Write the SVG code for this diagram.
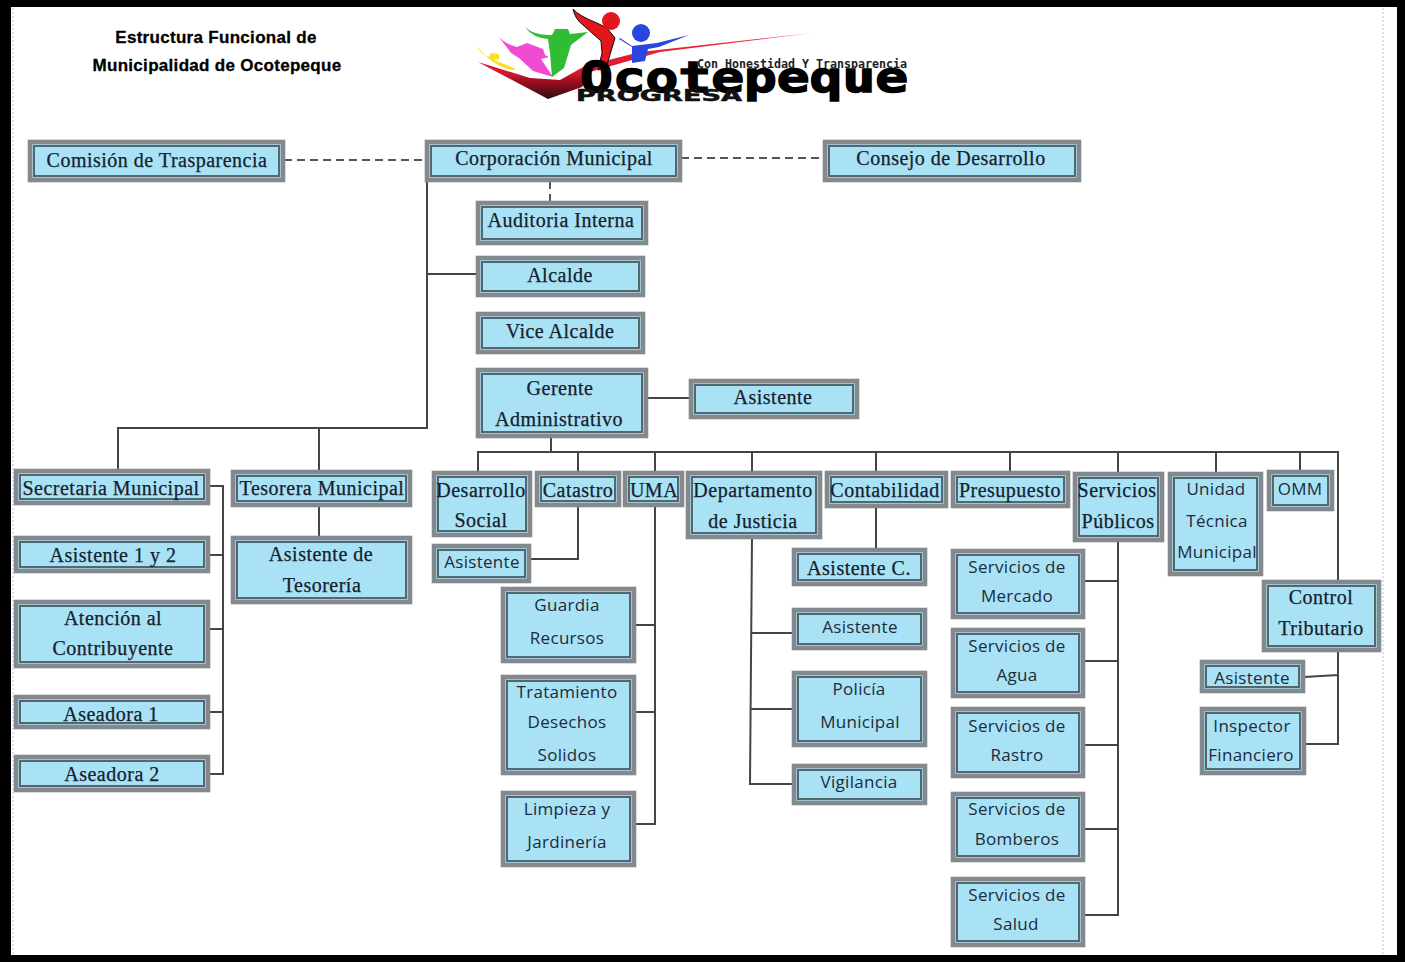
<svg xmlns="http://www.w3.org/2000/svg" width="1405" height="962" viewBox="0 0 1405 962">
<defs>
<filter id="soft" x="-5%" y="-5%" width="110%" height="110%"><feGaussianBlur stdDeviation="0.6"/></filter>
<linearGradient id="sw" x1="0" y1="0" x2="0" y2="1"><stop offset="0" stop-color="#f0303f"/><stop offset="0.6" stop-color="#d8142a"/><stop offset="1" stop-color="#2a0a0e"/></linearGradient>
</defs>
<style>
.o{fill:#a9e1f5;stroke:#83898c;stroke-width:4.6}
.i{fill:none;stroke:#54666f;stroke-width:2}
.s{font-family:"Liberation Serif","DejaVu Serif",serif;font-size:20px;letter-spacing:.5px;fill:#15202c;text-anchor:middle;stroke:#15202c;stroke-width:.25}
.c{font-family:"Open Sans","Noto Sans",sans-serif;font-size:17px;letter-spacing:.3px;fill:#1d2b3a;text-anchor:middle}
.l{fill:none;stroke:#444;stroke-width:2}
.d{fill:none;stroke:#555;stroke-width:2;stroke-dasharray:8 5}
.t{font-family:"Liberation Sans",Arial,sans-serif;font-size:17px;font-weight:700;letter-spacing:.3px;fill:#000;stroke:#000;stroke-width:.3;text-anchor:middle}
</style>
<rect width="1405" height="962" fill="#fff"/>
<g id="frame">
<path d="M13 8V955M1383 8V955" fill="none" stroke="#a8c8f0" stroke-width="1" stroke-dasharray="2 2"/>
<path d="M5.500 3.500H1401V958.500H5.500Z" fill="none" stroke="#000" stroke-width="7"/>
<rect x="0" y="0" width="11" height="962"/>
<rect x="1397" y="0" width="8" height="962"/>
</g>
<g id="title"><text class="t" x="216" y="43">Estructura  Funcional de</text><text class="t" x="217" y="71">Municipalidad de Ocotepeque</text></g>
<g id="logo">
<g filter="url(#soft)">
<path d="M478 62L548 99 582 87 590 72 660 52 812 33 640 52 585 66 560 80 530 78Z" fill="url(#sw)"/>
<path d="M477 46q3 8 12 11l2-4 8 1 0 5-5 1 22 9-4 1q-20-4-35-24Z" fill="#f8e020"/>
<path d="M499 37q8 8 18 10l10-4 16 6 2 6 4 2-8 2 12 18-20-6-14-13-8-5-6-8Z" fill="#f04bd2"/>
<path d="M525 27q10 9 27 8l3-6 13 0 2 5 18-2-17 13-7 23-12 9-2-24-2-14q-15-1-23-12Z" fill="#2fbd35"/>
<path d="M573 9q2 10 10 16l18 16 1 12-4 17 8-2 9-30-8-10-10-5q-18-7-24-14Z" fill="#e3121b" stroke="#111" stroke-width="1"/>
<circle cx="611" cy="21" r="9" fill="#e3121b"/>
<circle cx="641" cy="33" r="9" fill="#2c45e0"/>
<path d="M620 38l12 8 25-3 32-8-30 12-11 2-3 12-13 2 0-16-13-8Z" fill="#2c45e0"/>
</g>
<text x="580" y="92" font-family="'DejaVu Sans Mono',monospace" font-size="42" font-weight="700" textLength="328" lengthAdjust="spacingAndGlyphs" stroke="#000" stroke-width="1.500">Ocotepeque</text>
<text x="697" y="68" font-family="'DejaVu Sans Mono',monospace" font-size="12" font-weight="700" fill="#222" textLength="210" lengthAdjust="spacingAndGlyphs">Con Honestidad Y Transparencia</text>
<text x="576" y="101" font-family="'DejaVu Sans',sans-serif" font-size="15" font-weight="700" fill="#111" stroke="#111" stroke-width=".5" textLength="166" lengthAdjust="spacingAndGlyphs">PROGRESA</text>
</g>
<g id="connectors">
<path class="d" d="M284 160H426M681 158H824M550 181V202"/>
<path class="l" d="M427 181V428H118V470M319 428V471M427 274H477M319 506V537M646 398H690"/>
<path class="l" d="M551 437V452M478 472V452H1338V581M578 452V472M655 452V472M752 452V472M876 452V472M1010 452V472M1118 452V473M1216 452V473M1300 452V471"/>
<path class="l" d="M209 486H223V774H209M209 555H223M209 629H223M209 712H223"/>
<path class="l" d="M578 506V559H530"/>
<path class="l" d="M655 506V824H635M635 625H655M635 712H655"/>
<path class="l" d="M752 538L750 784H793M751 633H793M751 709H793"/>
<path class="l" d="M876 507V549"/>
<path class="l" d="M1118 541V915H1084M1084 581H1118M1084 661H1118M1084 745H1118M1084 829H1118"/>
<path class="l" d="M1338 651V744H1305M1304 677L1338 675"/>
</g>
<g id="n1"><rect class="o" x="30" y="142" width="253" height="38"/><rect class="i" x="34" y="146" width="245" height="30"/><text class="s" x="157" y="167">Comisión de Trasparencia</text></g>
<g id="n2"><rect class="o" x="427" y="142" width="253" height="38"/><rect class="i" x="431" y="146" width="245" height="30"/><text class="s" x="554" y="165">Corporación Municipal</text></g>
<g id="n3"><rect class="o" x="825" y="142" width="254" height="38"/><rect class="i" x="829" y="146" width="246" height="30"/><text class="s" x="951" y="165">Consejo de Desarrollo</text></g>
<g id="n4"><rect class="o" x="478" y="203" width="168" height="40"/><rect class="i" x="482" y="207" width="160" height="32"/><text class="s" x="561" y="227">Auditoria Interna</text></g>
<g id="n5"><rect class="o" x="478" y="258" width="165" height="37"/><rect class="i" x="482" y="262" width="157" height="29"/><text class="s" x="560" y="282">Alcalde</text></g>
<g id="n6"><rect class="o" x="478" y="314" width="165" height="38"/><rect class="i" x="482" y="318" width="157" height="30"/><text class="s" x="560" y="338">Vice Alcalde</text></g>
<g id="n7"><rect class="o" x="478" y="370" width="168" height="66"/><rect class="i" x="482" y="374" width="160" height="58"/><text class="s" x="560" y="395">Gerente</text><text class="s" x="559" y="426">Administrativo</text></g>
<g id="n8"><rect class="o" x="691" y="381" width="166" height="36"/><rect class="i" x="695" y="385" width="158" height="28"/><text class="s" x="773" y="404">Asistente</text></g>
<g id="n9"><rect class="o" x="16" y="471" width="192" height="32"/><rect class="i" x="20" y="475" width="184" height="24"/><text class="s" x="111" y="495">Secretaria Municipal</text></g>
<g id="n10"><rect class="o" x="233" y="472" width="177" height="33"/><rect class="i" x="237" y="476" width="169" height="25"/><text class="s" x="322" y="495">Tesorera Municipal</text></g>
<g id="n11"><rect class="o" x="434" y="473" width="96" height="62"/><rect class="i" x="438" y="477" width="88" height="54"/><text class="s" x="481" y="497">Desarrollo</text><text class="s" x="481" y="527">Social</text></g>
<g id="n12"><rect class="o" x="537" y="473" width="82" height="32"/><rect class="i" x="541" y="477" width="74" height="24"/><text class="s" x="578" y="497">Catastro</text></g>
<g id="n13"><rect class="o" x="625" y="473" width="57" height="32"/><rect class="i" x="629" y="477" width="49" height="24"/><text class="s" x="654" y="497">UMA</text></g>
<g id="n14"><rect class="o" x="688" y="473" width="132" height="64"/><rect class="i" x="692" y="477" width="124" height="56"/><text class="s" x="753" y="497">Departamento</text><text class="s" x="753" y="528">de Justicia</text></g>
<g id="n15"><rect class="o" x="827" y="473" width="119" height="33"/><rect class="i" x="831" y="477" width="111" height="25"/><text class="s" x="885" y="497">Contabilidad</text></g>
<g id="n16"><rect class="o" x="953" y="473" width="115" height="33"/><rect class="i" x="957" y="477" width="107" height="25"/><text class="s" x="1010" y="497">Presupuesto</text></g>
<g id="n17"><rect class="o" x="1075" y="474" width="87" height="66"/><rect class="i" x="1079" y="478" width="79" height="58"/><text class="s" x="1117" y="497">Servicios</text><text class="s" x="1118" y="528">Públicos</text></g>
<g id="n18"><rect class="o" x="1170" y="474" width="91" height="100"/><rect class="i" x="1174" y="478" width="83" height="92"/><text class="c" x="1216" y="495">Unidad</text><text class="c" x="1217" y="527">Técnica</text><text class="c" x="1217" y="558">Municipal</text></g>
<g id="n19"><rect class="o" x="1269" y="472" width="63" height="37"/><rect class="i" x="1273" y="476" width="55" height="29"/><text class="c" x="1300" y="495">OMM</text></g>
<g id="n20"><rect class="o" x="1264" y="582" width="115" height="68"/><rect class="i" x="1268" y="586" width="107" height="60"/><text class="s" x="1321" y="604">Control</text><text class="s" x="1321" y="635">Tributario</text></g>
<g id="n21"><rect class="o" x="1202" y="662" width="101" height="29"/><rect class="i" x="1206" y="666" width="93" height="21"/><text class="c" x="1252" y="684">Asistente</text></g>
<g id="n22"><rect class="o" x="1202" y="709" width="102" height="64"/><rect class="i" x="1206" y="713" width="94" height="56"/><text class="c" x="1252" y="732">Inspector</text><text class="c" x="1251" y="761">Financiero</text></g>
<g id="n23"><rect class="o" x="16" y="538" width="192" height="33"/><rect class="i" x="20" y="542" width="184" height="25"/><text class="s" x="113" y="562">Asistente 1 y 2</text></g>
<g id="n24"><rect class="o" x="16" y="602" width="192" height="64"/><rect class="i" x="20" y="606" width="184" height="56"/><text class="s" x="113" y="625">Atención al</text><text class="s" x="113" y="655">Contribuyente</text></g>
<g id="n25"><rect class="o" x="16" y="697" width="192" height="30"/><rect class="i" x="20" y="701" width="184" height="22"/><text class="s" x="111" y="721">Aseadora 1</text></g>
<g id="n26"><rect class="o" x="16" y="757" width="192" height="33"/><rect class="i" x="20" y="761" width="184" height="25"/><text class="s" x="112" y="781">Aseadora 2</text></g>
<g id="n27"><rect class="o" x="233" y="538" width="177" height="64"/><rect class="i" x="237" y="542" width="169" height="56"/><text class="s" x="321" y="561">Asistente de</text><text class="s" x="322" y="592">Tesorería</text></g>
<g id="n28"><rect class="o" x="434" y="546" width="95" height="35"/><rect class="i" x="438" y="550" width="87" height="27"/><text class="c" x="482" y="568">Asistente</text></g>
<g id="n29"><rect class="o" x="503" y="589" width="131" height="72"/><rect class="i" x="507" y="593" width="123" height="64"/><text class="c" x="567" y="611">Guardia</text><text class="c" x="567" y="644">Recursos</text></g>
<g id="n30"><rect class="o" x="503" y="677" width="131" height="96"/><rect class="i" x="507" y="681" width="123" height="88"/><text class="c" x="567" y="698">Tratamiento</text><text class="c" x="567" y="728">Desechos</text><text class="c" x="567" y="761">Solidos</text></g>
<g id="n31"><rect class="o" x="503" y="793" width="131" height="72"/><rect class="i" x="507" y="797" width="123" height="64"/><text class="c" x="567" y="815">Limpieza y</text><text class="c" x="567" y="848">Jardinería</text></g>
<g id="n32"><rect class="o" x="794" y="550" width="131" height="34"/><rect class="i" x="798" y="554" width="123" height="26"/><text class="s" x="859" y="575">Asistente C.</text></g>
<g id="n33"><rect class="o" x="794" y="610" width="131" height="38"/><rect class="i" x="798" y="614" width="123" height="30"/><text class="c" x="860" y="633">Asistente</text></g>
<g id="n34"><rect class="o" x="794" y="673" width="131" height="72"/><rect class="i" x="798" y="677" width="123" height="64"/><text class="c" x="859" y="695">Policía</text><text class="c" x="860" y="728">Municipal</text></g>
<g id="n35"><rect class="o" x="794" y="766" width="131" height="37"/><rect class="i" x="798" y="770" width="123" height="29"/><text class="c" x="859" y="788">Vigilancia</text></g>
<g id="n36"><rect class="o" x="953" y="551" width="130" height="66"/><rect class="i" x="957" y="555" width="122" height="58"/><text class="c" x="1017" y="573">Servicios de</text><text class="c" x="1017" y="602">Mercado</text></g>
<g id="n37"><rect class="o" x="953" y="630" width="130" height="66"/><rect class="i" x="957" y="634" width="122" height="58"/><text class="c" x="1017" y="652">Servicios de</text><text class="c" x="1017" y="681">Agua</text></g>
<g id="n38"><rect class="o" x="953" y="709" width="130" height="67"/><rect class="i" x="957" y="713" width="122" height="59"/><text class="c" x="1017" y="732">Servicios de</text><text class="c" x="1017" y="761">Rastro</text></g>
<g id="n39"><rect class="o" x="953" y="794" width="130" height="66"/><rect class="i" x="957" y="798" width="122" height="58"/><text class="c" x="1017" y="815">Servicios de</text><text class="c" x="1017" y="845">Bomberos</text></g>
<g id="n40"><rect class="o" x="953" y="879" width="130" height="66"/><rect class="i" x="957" y="883" width="122" height="58"/><text class="c" x="1017" y="901">Servicios de</text><text class="c" x="1016" y="930">Salud</text></g>
</svg>
